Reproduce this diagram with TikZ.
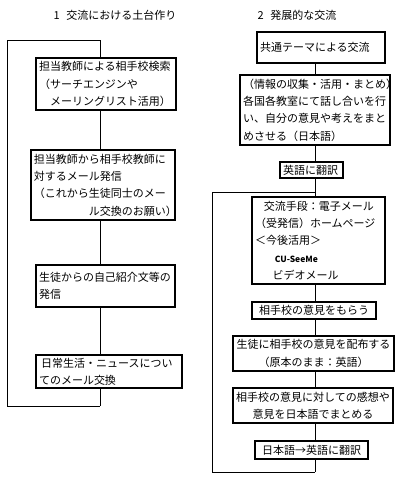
\documentclass[tikz,border=0pt]{standalone}
\usepackage{fontspec}
\newfontfamily\jp{Noto Sans CJK JP}
\usetikzlibrary{calc}
\usetikzlibrary{positioning}

\tikzset{
  box/.style={draw,line width=1.1pt,inner xsep=3pt,inner ysep=1pt,align=left,font=\jp\fontsize{11}{17.3}\selectfont},
  link/.style={line width=0.8pt},
  title/.style={font=\jp\fontsize{11}{13}\selectfont}
}

\begin{document}
\begin{tikzpicture}[x=1pt,y=-1pt]
\useasboundingbox (0,0) rectangle (400,480);

\node[title] (t1) at (115,15) {1\hspace{0.6em}交流における土台作り};
\node[title] (t2) at (297,15) {2\hspace{0.6em}発展的な交流};

% left column
\node[box,text width=134pt,minimum height=52pt] (b1) at (106,84) {担当教師による相手校検索\\（サーチエンジンや\\\hspace*{1em}メーリングリスト活用）};
\node[box,text width=138pt,minimum height=70pt] (b2) at (103,185) {担当教師から相手校教師に\\対するメール発信\\（これから生徒同士のメー\\\hspace*{5em}ル交換のお願い）};
\node[box,text width=133pt,minimum height=42pt] (b3) at (105.5,286) {生徒からの自己紹介文等の\\発信};
\node[box,text width=140pt,minimum height=33pt] (b4) at (109,371.5) {\hspace*{0.2em}日常生活・ニュースについ\\てのメール交換};

\coordinate (ltop) at (100,40);
\coordinate (lbot) at (100,406);
\coordinate (ltl) at (7,40);
\coordinate (lbl) at (7,406);
\draw[link] (ltop) -- (ltl) -- (lbl) -- (lbot);
\draw[link] (ltop) -- (b1.north -| ltop);
\foreach \a/\b in {b1/b2,b2/b3,b3/b4}
  \draw[link] (\a.south -| ltop) -- (\b.north -| ltop);
\draw[link] (b4.south -| lbot) -- (lbot);

% right column
\node[box,text width=122pt,minimum height=31pt] (ca) at (321,47.5) {共通テーマによる交流};
\node[box,text width=144pt,minimum height=70pt] (cb) at (315,110) {（情報の収集・活用・まとめ）\\各国各教室にて話し合いを行\\い、自分の意見や考えをまと\\めさせる（日本語）};
\node[box,text width=57pt,inner xsep=3pt,minimum height=16pt] (cc) at (311.5,170) {英語に翻訳};
\node[box,text width=127pt,minimum height=87pt] (cd) at (318.5,240.5) {\hspace*{0.8em}交流手段：電子メール\\（受発信）ホームページ\\＜今後活用＞\\\hspace*{1.8em}{\fontsize{8.5}{17.3}\selectfont\bfseries CU-SeeMe}\\\hspace*{1.6em}ビデオメール};
\node[box,text width=118pt,minimum height=17pt,align=center] (ce) at (314,310.5) {相手校の意見をもらう};
\node[box,text width=155pt,minimum height=35pt,align=center] (cf) at (313.5,353.5) {生徒に相手校の意見を配布する\\（原本のまま：英語）};
\node[box,text width=154pt,minimum height=35pt,align=center] (cg) at (313,405.5) {相手校の意見に対しての感想や\\意見を日本語でまとめる};
\node[box,text width=107pt,minimum height=18pt,align=center] (ch) at (311.5,450) {日本語→英語に翻訳};

\coordinate (rtop) at (315,192);
\coordinate (rbot) at (315,472);
\coordinate (rtl) at (212,192);
\coordinate (rbl) at (212,472);
\draw[link] (rtop) -- (rtl) -- (rbl) -- (rbot);
\foreach \a/\b in {ca/cb,cb/cc,cc/cd,cd/ce,ce/cf,cf/cg,cg/ch}
  \draw[link] (\a.south -| rtop) -- (\b.north -| rtop);
\draw[link] (ch.south -| rbot) -- (rbot);
\end{tikzpicture}
\end{document}
